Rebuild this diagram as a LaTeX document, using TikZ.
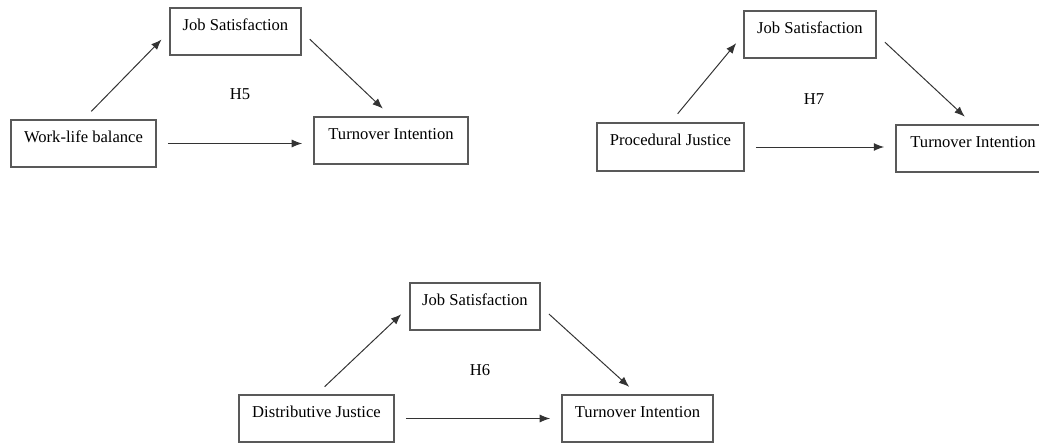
\documentclass[tikz,border=0pt]{standalone}
\usepackage{fontspec}
\setmainfont{Liberation Serif}
\usetikzlibrary{arrows.meta}
\tikzstyle{factor}=[rectangle,
draw=black!65,
line width=0.9pt,
inner xsep=0pt,
inner ysep=0pt,
text height=0.55cm,
text depth=0.625cm,
minimum height=1.175cm]
\tikzstyle{hyp}=[inner sep=1pt]
\tikzstyle{link}=[draw=black!80,
line width=0.7pt,
shorten <=0.28cm,
shorten >=0.28cm]

\begin{document}
\begin{tikzpicture}[x=0.025cm,y=-0.025cm,>={Latex[length=2.6mm,width=2mm]},
	font=\fontsize{11.8}{14}\selectfont]
	% the page is cut at the right, as in the original
	\clip (0,0) rectangle (1039,443);
	
	% First model: work-life balance
	\node (js_a)  [factor,minimum width=3.275cm] at (235.5,31.5)  {Job Satisfaction};
	\node (wlb)   [factor,minimum width=3.625cm] at (83.5,143.5)  {Work-life balance};
	\node (ti_a)  [factor,minimum width=3.85cm]  at (391,140.5)   {Turnover Intention};
	\node (h5)    [hyp] at (240,94) {H5};
	
	% Second model: procedural justice
	\node (js_b)  [factor,minimum width=3.3cm]   at (810,34.5)    {Job Satisfaction};
	\node (pj)    [factor,minimum width=3.675cm,minimum height=1.2cm] at (670.5,147) {Procedural Justice};
	\node (ti_b)  [factor,minimum width=3.85cm]  at (973,148.5)   {Turnover Intention};
	\node (h7)    [hyp] at (814,99) {H7};
	
	% Third model: distributive justice
	\node (js_c)  [factor,minimum width=3.25cm]  at (475,306.5)   {Job Satisfaction};
	\node (dj)    [factor,minimum width=3.875cm] at (316.5,418.5) {Distributive Justice};
	\node (ti_c)  [factor,minimum width=3.775cm] at (637.5,418.5) {Turnover Intention};
	\node (h6)    [hyp] at (480,370) {H6};
	
	% Paths: X -> M -> Y and the direct X -> Y
	\path[->]
	(wlb.north) edge[link] (js_a.west)
	(js_a.east) edge[link] (ti_a.north)
	(wlb.east)  edge[link] (wlb.east -| ti_a.west)
	
	(pj.north)  edge[link] (js_b.west)
	(js_b.east) edge[link] (ti_b.north)
	(pj.east)   edge[link] (pj.east -| ti_b.west)
	
	(dj.north)  edge[link] (js_c.west)
	(js_c.east) edge[link] (ti_c.north)
	(dj.east)   edge[link] (ti_c.west)
	;
\end{tikzpicture}
\end{document}
